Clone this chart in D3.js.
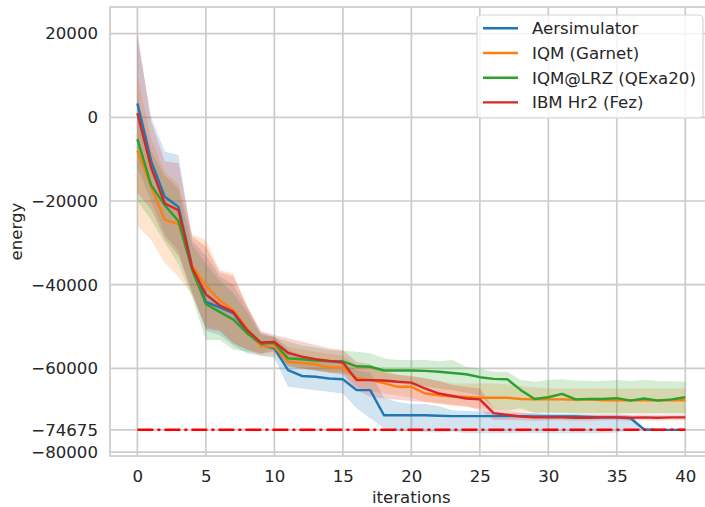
<!DOCTYPE html>
<html>
<head>
<meta charset="utf-8">
<script src="https://cdn.jsdelivr.net/npm/d3@7"></script>
<style>
  body { margin: 0; background: #ffffff; }
  svg { display: block; }
</style>
</head>
<body>
<div id="energy_graph"></div>
<script>

// iterations 0..40
var iterations = d3.range(0, 41);

var series_names = ['Aersimulator', 'IQM (Garnet)', 'IQM@LRZ (QExa20)', 'IBM Hr2 (Fez)'];
var series_colors = ['#1f77b4', '#ff7f0e', '#2ca02c', '#d62728'];

// mean energy
var aer_mean = [3300, -10400, -19000, -21400, -35700, -44100, -45400, -46800, -51200, -54400,
    -55200, -60400, -61800, -62000, -62400, -62600, -65200, -65200, -71200, -71200,
    -71200, -71200, -71300, -71400, -71400, -71400, -71400, -71400, -71400, -71500,
    -71500, -71500, -71500, -71600, -71700, -71700, -71900, -74600, -74700, -74700, -74700];
var aer_upper = [19000, 0, -8200, -9000, -29500, -33000, -38000, -40000, -45500, -51500,
    -52500, -55500, -57000, -57500, -58000, -58500, -60500, -61000, -67000, -68000,
    -68500, -68500, -69000, -70000, -70200, -70300, -70500, -70600, -70700, -70800,
    -70900, -70900, -70900, -71000, -71000, -71000, -71200, -74400, -74500, -74500, -74500];
var aer_lower = [-12000, -20000, -28000, -32000, -42000, -51000, -52000, -54500, -56400, -57000,
    -57500, -64400, -64800, -65200, -65600, -66000, -69500, -71900, -74300, -75100,
    -75100, -75200, -75300, -75100, -75500, -75500, -75500, -75500, -75400, -75500,
    -75500, -75500, -75500, -75500, -75500, -75300, -74800, -74800, -74900, -74900, -74900];

var garnet_mean = [-8000, -16600, -24500, -25500, -35500, -40300, -43700, -46100, -50400, -54700,
    -54800, -58400, -58700, -59000, -59800, -59800, -62300, -62800, -63500, -64400,
    -64400, -66000, -66400, -66700, -66800, -67000, -67000, -67000, -67300, -67400,
    -67400, -67400, -67500, -67400, -67600, -67600, -67600, -67600, -67600, -67600, -67600];
var garnet_upper = [10000, -5000, -13000, -16000, -28000, -29300, -36500, -37300, -45000, -51500,
    -52500, -54800, -55500, -56000, -56500, -57000, -59500, -60000, -60500, -61500,
    -62000, -62500, -63000, -63600, -63600, -63600, -63600, -63800, -64200, -64500,
    -64800, -64800, -64800, -64800, -64800, -64800, -64800, -64800, -64800, -64800, -64800];
var garnet_lower = [-26000, -29300, -34800, -38100, -42500, -50000, -51000, -54000, -55500, -57000,
    -57000, -59200, -60000, -60500, -61000, -61200, -64400, -65500, -66000, -66500,
    -67000, -68000, -68500, -69000, -69200, -69500, -69800, -70000, -70300, -70500,
    -70500, -70600, -70700, -70700, -70700, -70700, -70700, -70700, -70700, -70700, -70700];

var lrz_mean = [-5200, -16200, -21000, -24800, -36500, -44600, -46500, -48300, -51600, -54000,
    -54000, -57600, -57800, -58100, -58300, -58300, -59500, -59600, -60500, -60500,
    -60500, -60600, -60800, -61100, -61400, -62100, -62500, -62600, -65200, -67300,
    -66900, -66100, -67400, -67300, -67300, -67100, -67700, -67200, -67700, -67400, -66900];
var lrz_upper = [5000, -8000, -14000, -17000, -30500, -35000, -39000, -42000, -46500, -52000,
    -52500, -53600, -54500, -55000, -55600, -55800, -56000, -56400, -57600, -58000,
    -58000, -58000, -58300, -58000, -59600, -60000, -60800, -60800, -62800, -63200,
    -62800, -62600, -62900, -63000, -63000, -62800, -63000, -62700, -63000, -63100, -63200];
var lrz_lower = [-20000, -24500, -30000, -35000, -43000, -53200, -53200, -55500, -56000, -56500,
    -55500, -59600, -60000, -60500, -61000, -61000, -62500, -63000, -63500, -63500,
    -64000, -64300, -64800, -65200, -65800, -66500, -69500, -70000, -69500, -70700,
    -70700, -70700, -70800, -70800, -70800, -70800, -70800, -70800, -70800, -70800, -70800];

var fez_mean = [1000, -12000, -20600, -22200, -36000, -42300, -44900, -46500, -50800, -53800,
    -53700, -56300, -57200, -57800, -58200, -58600, -62800, -62800, -62900, -63200,
    -63400, -64800, -66000, -66600, -67200, -67400, -70700, -71100, -71500, -71700,
    -71700, -71700, -71800, -71800, -71700, -71700, -71800, -71700, -71800, -71700, -71700];
var fez_upper = [20400, -1000, -10500, -11000, -28500, -30900, -37000, -38000, -45000, -51000,
    -52000, -52800, -53600, -54400, -55200, -55600, -58500, -59000, -61000, -61500,
    -61800, -62300, -63000, -64000, -64400, -64800, -69500, -70000, -70500, -70800,
    -71000, -71000, -71100, -71100, -71000, -71000, -71100, -71000, -71100, -71000, -71000];
var fez_lower = [-18000, -22000, -29000, -33000, -42000, -50500, -51000, -54000, -55500, -56500,
    -56000, -59500, -60000, -60500, -61000, -61500, -65200, -66800, -67200, -67500,
    -67800, -68000, -68300, -68700, -69000, -70000, -72300, -72300, -72400, -72500,
    -72400, -72400, -72500, -72500, -72400, -72400, -72500, -72400, -72500, -72400, -72400];

// exact ground state energy
var ground_energy = -74675;

// ticks
var x_ticks = [0, 5, 10, 15, 20, 25, 30, 35, 40];
var y_ticks = [20000, 0, -20000, -40000, -60000, -74675, -80000];

var all_means = [aer_mean, garnet_mean, lrz_mean, fez_mean];
var all_upper = [aer_upper, garnet_upper, lrz_upper, fez_upper];
var all_lower = [aer_lower, garnet_lower, lrz_lower, fez_lower];

//set the dimensions and margins of the graph
var total_width = 705, total_height = 507;
var margin = {top: 7, left: 110},
    width = 602.7,
    height = 449;

var font_family = '"DejaVu Sans", sans-serif';
var font_size = 16.6;
var text_color = '#262626';
var grid_color = '#cccccc';

var svg = d3.select('#energy_graph')
    .append('svg')
        .attr('width', total_width)
        .attr('height', total_height)
        .style('font-family', font_family);

var g = svg.append('g')
    .attr('transform', 'translate(' + margin.left + ',' + margin.top + ')');

// scales
var x = d3.scaleLinear()
    .domain([-2, 42])
    .range([0, width]);

var y = d3.scaleLinear()
    .domain([-80932, 26356])
    .range([height, 0]);

// grid lines
g.selectAll('.xgrid')
    .data(x_ticks)
    .enter()
    .append('line')
        .attr('x1', function(d) { return x(d); })
        .attr('x2', function(d) { return x(d); })
        .attr('y1', 0)
        .attr('y2', height)
        .attr('stroke', grid_color)
        .attr('stroke-width', 1.7);

g.selectAll('.ygrid')
    .data(y_ticks)
    .enter()
    .append('line')
        .attr('x1', 0)
        .attr('x2', width)
        .attr('y1', function(d) { return y(d); })
        .attr('y2', function(d) { return y(d); })
        .attr('stroke', grid_color)
        .attr('stroke-width', 1.7);

// frame
g.append('rect')
    .attr('width', width)
    .attr('height', height)
    .attr('fill', 'none')
    .attr('stroke', grid_color)
    .attr('stroke-width', 1.7);

// axes, no tick marks, just the labels
var fmt = function(d) { return d < 0 ? '\u2212' + Math.abs(d) : String(d); };

var x_axis = g.append('g')
    .attr('transform', 'translate(0,' + height + ')')
    .call(d3.axisBottom(x).tickValues(x_ticks).tickSize(0).tickPadding(14).tickFormat(fmt));

var y_axis = g.append('g')
    .call(d3.axisLeft(y).tickValues(y_ticks).tickSize(0).tickPadding(12).tickFormat(fmt));

[x_axis, y_axis].forEach(function(a) {
    a.select('.domain').remove();
    a.selectAll('text')
        .attr('fill', text_color)
        .style('font-size', font_size + 'px')
        .style('font-family', font_family);
});

// axis labels
svg.append('text')
    .attr('x', margin.left + width / 2)
    .attr('y', 503)
    .attr('text-anchor', 'middle')
    .attr('fill', text_color)
    .style('font-size', font_size + 'px')
    .text('iterations');

svg.append('text')
    .attr('transform', 'translate(22,' + (margin.top + height / 2) + ') rotate(-90)')
    .attr('text-anchor', 'middle')
    .attr('fill', text_color)
    .style('font-size', font_size + 'px')
    .text('energy');

// confidence bands first, lines on top
var plot = g.append('g');

all_means.forEach(function(m, k) {
    plot.append('path')
        .datum(iterations)
        .attr('fill', series_colors[k])
        .attr('fill-opacity', 0.2)
        .attr('stroke', 'none')
        .attr('d', d3.area()
            .x(function(d) { return x(d); })
            .y0(function(d) { return y(all_lower[k][d]); })
            .y1(function(d) { return y(all_upper[k][d]); })
        );
});

all_means.forEach(function(m, k) {
    plot.append('path')
        .datum(iterations)
        .attr('fill', 'none')
        .attr('stroke', series_colors[k])
        .attr('stroke-width', 2.4)
        .attr('stroke-linejoin', 'round')
        .attr('d', d3.line()
            .x(function(d) { return x(d); })
            .y(function(d) { return y(m[d]); })
        );
});

// ground state reference line
plot.append('line')
    .attr('x1', x(0))
    .attr('x2', x(40))
    .attr('y1', y(ground_energy))
    .attr('y2', y(ground_energy))
    .attr('stroke', '#ff0000')
    .attr('stroke-width', 2.5)
    .attr('stroke-dasharray', '16 4 3 4');

// legend
var legend = svg.append('g')
    .attr('transform', 'translate(477,15)');

legend.append('rect')
    .attr('width', 226)
    .attr('height', 103)
    .attr('rx', 4)
    .attr('fill', 'white')
    .attr('fill-opacity', 0.8)
    .attr('stroke', '#d6d6d6')
    .attr('stroke-width', 1.2);

var entries = legend.selectAll('.entry')
    .data(series_names)
    .enter()
    .append('g')
    .attr('transform', function(d, i) { return 'translate(0,' + (13.3 + i * 24.7) + ')'; });

entries.append('line')
    .attr('x1', 6)
    .attr('x2', 41)
    .attr('y1', 0)
    .attr('y2', 0)
    .attr('stroke', function(d, i) { return series_colors[i]; })
    .attr('stroke-width', 2.4);

entries.append('text')
    .attr('x', 55)
    .attr('y', 6)
    .attr('fill', text_color)
    .style('font-size', font_size + 'px')
    .text(function(d) { return d; });

</script>
</body>
</html>
